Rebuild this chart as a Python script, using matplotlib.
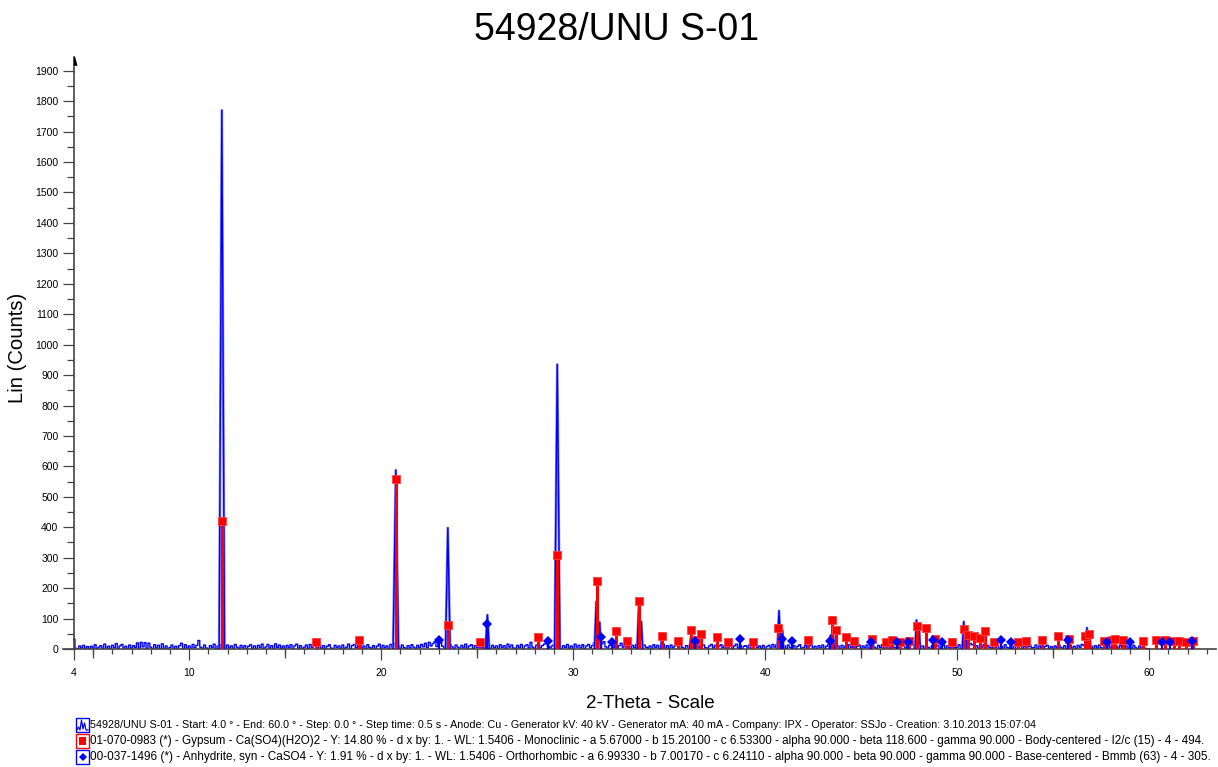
import numpy as np
import matplotlib
matplotlib.use('Agg')
from matplotlib import pyplot as plt
from matplotlib.patches import Rectangle
from matplotlib.lines import Line2D
import matplotlib.transforms as mtransforms

plt.rcParams['font.family'] = ['Liberation Sans', 'DejaVu Sans']

#measured pattern: background counts, 4.0 to 60.0 deg, step 0.1
theta_start = 4.0
theta_step = 0.1
bg_counts = [
33,2,1,10,3,12,2,8,0,9,
3,14,1,6,11,2,16,3,9,1,
12,4,18,2,10,15,3,9,1,13,
2,11,5,20,3,22,7,21,2,19,
6,1,14,3,12,1,17,2,10,1,
5,13,2,9,0,11,19,1,14,3,
10,2,15,4,12,28,6,2,13,3,
1,11,5,16,2,10,14,3,9,1,
13,3,10,1,15,6,2,12,4,11,
1,9,14,2,10,1,12,5,16,2,
7,15,3,11,1,17,5,13,2,10,
2,12,4,14,1,10,16,3,11,1,
6,13,2,15,5,18,12,3,14,2,
11,1,9,14,3,1,12,4,10,2,
13,2,6,16,1,11,15,4,12,20,
3,10,1,14,5,2,11,1,9,16,
2,12,4,10,1,15,6,18,3,11,
2,13,5,1,11,3,14,6,2,12,
4,15,7,19,5,22,10,18,24,8,
17,28,9,5,15,3,14,7,2,13,
6,1,12,4,16,2,10,14,1,11,
5,13,20,3,11,15,6,2,12,4,
10,1,14,5,11,2,16,6,13,3,
2,12,4,15,1,10,14,3,22,6,
2,13,18,5,11,16,24,9,4,10,
14,3,12,6,1,11,5,15,2,10,
2,16,6,12,3,14,1,10,15,4,
11,20,28,13,6,17,24,7,3,12,
16,5,13,2,11,19,6,14,3,10,
1,12,5,15,4,11,2,13,6,3,
10,2,14,5,12,1,9,16,3,11,
2,13,4,10,15,2,12,5,1,11,
6,14,3,12,2,16,5,11,13,4,
2,10,15,3,12,1,9,14,4,11,
2,8,13,2,10,16,3,12,1,9,
11,3,14,2,9,13,4,10,2,12,
1,8,12,3,15,6,14,20,8,4,
10,2,13,5,3,11,1,9,14,2,
5,12,2,10,15,3,9,1,11,4,
13,2,9,14,18,8,16,4,10,2,
12,3,10,1,14,5,11,2,9,13,
2,10,4,13,3,11,18,6,1,12,
5,14,2,10,12,2,16,6,4,11,
1,10,13,3,9,2,12,15,5,11,
14,4,10,2,12,5,1,11,3,9,
12,2,8,13,2,10,4,1,11,3,
6,14,2,12,5,1,10,18,14,4,
11,3,13,6,15,2,12,5,2,10,
4,12,1,9,3,14,5,2,11,2,
10,1,8,12,2,9,2,7,11,3,
5,13,2,10,3,1,9,12,2,8,
2,10,4,14,6,2,11,1,8,12,
3,9,2,12,5,15,11,4,10,2,
9,2,11,3,13,5,1,10,2,12,
4,11,2,9,3,12,5,1,10,2,
9,2,12,4,1,10,3,8,2,1,
1]

#peaks of the measured pattern
peak_theta  = [11.70, 20.76, 23.47, 25.53, 29.17, 31.20, 31.38, 33.42, 33.55, 34.62, 36.12,
               40.72, 40.90, 43.40, 43.68, 45.55, 47.88, 48.02, 50.34, 50.52, 56.76, 56.90]
peak_counts = [1770, 588, 398, 112, 935, 156, 88, 152, 90, 42, 35,
               126, 62, 45, 48, 36, 95, 62, 90, 55, 70, 42]
peak_hw     = [0.14, 0.14, 0.12, 0.10, 0.14, 0.09, 0.07, 0.09, 0.07, 0.06, 0.06,
               0.09, 0.06, 0.06, 0.06, 0.06, 0.08, 0.06, 0.08, 0.06, 0.07, 0.06]

#01-070-0983 Gypsum reference sticks
gyp_theta = [11.70, 16.62, 18.84, 20.77, 23.49, 25.13, 28.15, 29.14, 31.22, 32.21, 32.78, 33.44,
             34.60, 35.47, 36.12, 36.38, 36.67, 37.47, 38.08, 39.36, 40.68, 42.23, 43.46, 43.69,
             44.21, 44.63, 45.58, 46.29, 46.60, 47.02, 47.47, 47.90, 48.37, 48.86, 49.74, 50.35,
             50.58, 50.88, 51.19, 51.47, 51.92, 53.17, 53.57, 54.43, 55.27, 55.84, 56.64, 56.85,
             57.63, 58.08, 58.22, 58.65, 59.66, 60.37, 60.82, 61.31, 61.55, 61.90, 62.26]
gyp_counts = [422, 22, 30, 560, 80, 24, 40, 308, 224, 60, 27, 159,
              44, 27, 62, 30, 50, 39, 24, 24, 70, 31, 95, 61,
              39, 26, 33, 24, 31, 24, 26, 76, 68, 33, 23, 66,
              46, 42, 35, 59, 24, 23, 26, 31, 44, 34, 43, 48,
              25, 30, 32, 28, 26, 31, 30, 26, 26, 23, 26]

#00-037-1496 Anhydrite reference sticks
anh_theta = [23.01, 25.53, 28.67, 31.43, 32.04, 36.36, 38.69, 40.88, 41.38, 43.37, 45.50, 46.88,
             47.42, 48.72, 49.19, 52.28, 52.82, 55.76, 57.79, 59.00, 60.68, 61.10, 62.24]
anh_counts = [28, 81, 26, 39, 24, 26, 34, 33, 26, 27, 24, 23,
              23, 31, 23, 28, 23, 31, 24, 24, 24, 23, 25]

title = '54928/UNU S-01'
legend_lines = [
    '54928/UNU S-01 - Start: 4.0 \u00b0 - End: 60.0 \u00b0 - Step: 0.0 \u00b0 - Step time: 0.5 s - Anode: Cu - Generator kV: 40 kV - Generator mA: 40 mA - Company: IPX - Operator: SSJo - Creation: 3.10.2013 15:07:04',
    '01-070-0983 (*) - Gypsum - Ca(SO4)(H2O)2 - Y: 14.80 % - d x by: 1. - WL: 1.5406 - Monoclinic - a 5.67000 - b 15.20100 - c 6.53300 - alpha 90.000 - beta 118.600 - gamma 90.000 - Body-centered - I2/c (15) - 4 - 494.',
    '00-037-1496 (*) - Anhydrite, syn - CaSO4 - Y: 1.91 % - d x by: 1. - WL: 1.5406 - Orthorhombic - a 6.99330 - b 7.00170 - c 6.24110 - alpha 90.000 - beta 90.000 - gamma 90.000 - Base-centered - Bmmb (63) - 4 - 305.',
]
legend_sizes = [7.72, 8.42, 8.45]

W, H = 1218, 767
fig = plt.figure(figsize=(W/100, H/100), dpi=100)
ax_l, ax_r, ax_b, ax_t = 63, 1216, 649, 57
ax = fig.add_axes([ax_l/W, 1-ax_b/H, (ax_r-ax_l)/W, (ax_b-ax_t)/H])

px_per_deg = 19.2
ymax = 1945
ax.set_xlim(4 - (74-ax_l)/px_per_deg, 4 + (ax_r-74)/px_per_deg)
ax.set_ylim(0, ymax)

blue = '#0000ff'
red = '#ff0000'

bg_theta = theta_start + theta_step*np.arange(len(bg_counts))
ax.plot(bg_theta, bg_counts, color=blue, lw=1.0, drawstyle='steps-mid', zorder=2)

for t, c, w in zip(peak_theta, peak_counts, peak_hw):
    ax.plot([t-w, t, t+w], [2, c, 2], color='#8a8aff', lw=1.9, zorder=2)
    ax.plot([t-w, t, t+w], [2, c, 2], color=blue, lw=1.0, zorder=3)

ax.vlines(gyp_theta, 0, gyp_counts, colors=red, lw=2.2, zorder=4)
ax.plot(gyp_theta, gyp_counts, 's', color=red, ms=6.2, mec='#ff4040', mew=0.6, zorder=5)
ax.vlines(anh_theta, 0, anh_counts, colors=blue, lw=1.6, zorder=6)
ax.plot(anh_theta, anh_counts, 'D', color=blue, ms=4.8, mew=0, zorder=7)

#axes styling
for s in ['top', 'right']:
    ax.spines[s].set_visible(False)
ax.spines['left'].set_position(('data', 4))
axc = '#444444'
ax.spines['left'].set_color(axc)
ax.spines['bottom'].set_color(axc)
ax.spines['left'].set_linewidth(1.2)
ax.spines['bottom'].set_linewidth(1.2)

ax.set_yticks(np.arange(0, 2000, 100))
ax.set_yticks(np.arange(50, 1900, 100), minor=True)
ax.set_xticks([4, 10, 20, 30, 40, 50, 60])
ax.set_xticks(np.arange(5, 64, 1), minor=True)
ax.tick_params(axis='y', which='major', length=7.7, width=0.9, color=axc, pad=3.5, labelsize=7.5)
ax.tick_params(axis='y', which='minor', length=5.2, width=0.9, color=axc)
ax.tick_params(axis='x', which='major', length=8, width=0.9, color=axc, pad=6, labelsize=7.5)
ax.tick_params(axis='x', which='minor', length=3.6, width=0.9, color=axc)

#medium ticks every 5 deg
trans = mtransforms.blended_transform_factory(ax.transData, ax.transAxes)
mid = np.arange(5, 64, 5)
mid = mid[mid % 10 != 0]
ax.vlines(mid, -9/(ax_b-ax_t), 0, transform=trans, colors=axc, lw=0.9, clip_on=False)

#half arrow at top of y axis
ax.plot([4], [ymax - 4/0.3044], marker=[(0, -1), (0, 1), (0.55, -1)], ms=6,
        color='black', clip_on=False, zorder=8)

fig.text(617/W, 1-30/H, title, ha='center', va='center', fontsize=27)
fig.text(650/W, 1-703/H, '2-Theta - Scale', ha='center', va='center', fontsize=13.5)
fig.text(18/W, 1-348/H, 'Lin (Counts)', ha='center', va='center', rotation=90, fontsize=14.6)

#legend block
ys = [725, 741, 757]
for i, (txt, yc) in enumerate(zip(legend_lines, ys)):
    fig.text(90/W, 1-yc/H, txt, ha='left', va='center', fontsize=legend_sizes[i])
    edge = red if i == 1 else blue
    fig.add_artist(Rectangle((76/W, 1-(yc+7)/H), 13/W, 14/H, transform=fig.transFigure,
                             fill=False, ec=edge, lw=1.0))
    if i == 0:
        zx = [77, 78.5, 80, 81.5, 83, 84.5, 86, 88]
        zy = [5, 2, 5, -5, 4, -2, 5, 5]
        fig.add_artist(Line2D([v/W for v in zx], [1-(yc+d)/H for d in zy],
                              transform=fig.transFigure, color=blue, lw=0.9))
    elif i == 1:
        fig.add_artist(Rectangle((79/W, 1-(yc+4)/H), 7/W, 8/H, transform=fig.transFigure,
                                 color=red, lw=0))
    else:
        fig.add_artist(Line2D([82.5/W], [1-yc/H], transform=fig.transFigure,
                              marker='D', ms=4.5, color=blue, mew=0))

fig.savefig('out.png', dpi=100)
